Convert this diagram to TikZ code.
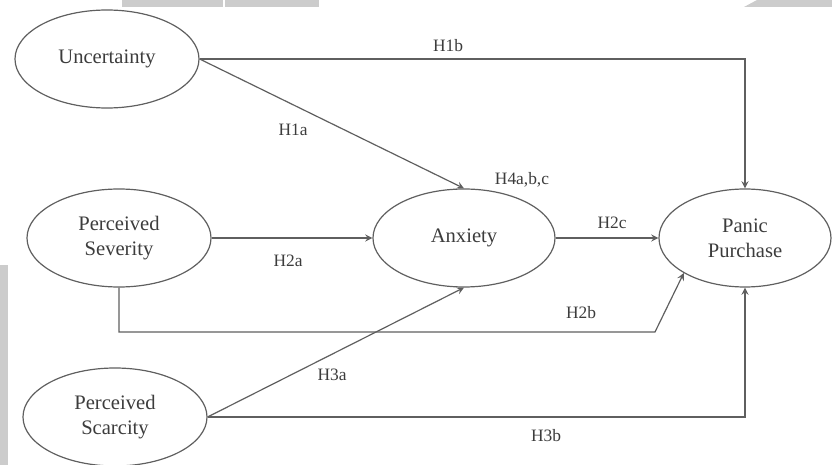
\documentclass[tikz,border=0pt]{standalone}
\usepackage{fontspec}
\setmainfont{Liberation Serif}
\usepackage{tikz}
\usetikzlibrary{calc, positioning, arrows, shapes.geometric}
\definecolor{ink}{RGB}{60,60,60}
\definecolor{edge}{RGB}{95,95,95}
\definecolor{smudge}{RGB}{204,204,204}
\tikzstyle{var}=[draw=edge, line width=0.6pt, shape=ellipse, inner sep=0pt, minimum width=92pt, minimum height=49pt, align=center, text=ink, font=\fontsize{10.3}{12.5}\selectfont]
\tikzstyle{hyp}=[inner sep=1pt, text=ink, font=\fontsize{8.7}{10}\selectfont]
\tikzstyle{path}=[draw=edge, line width=0.6pt]
\tikzset{>=stealth}

\begin{document}
\begin{tikzpicture}[x=0.5pt, y=-0.5pt]
\useasboundingbox (0,0) rectangle (832,465);
% the grey bits at the edges
\fill[smudge] (122,0) rectangle (223,7);
\fill[smudge] (225,0) rectangle (319,7);
\fill[smudge] (744,7) -- (757,0) -- (832,0) -- (832,7) -- cycle;
\fill[smudge] (0,265) rectangle (8,465);
% the constructs
\node[var] (unc) at (107, 59) {Uncertainty};
\node[var] (sev) at (119, 238) {Perceived\\Severity};
\node[var] (sca) at (115, 417) {Perceived\\Scarcity};
\node[var, minimum width=91pt] (anx) at (464, 238) {Anxiety};
\node[var, minimum width=86pt] (pp) at (745, 238) {Panic\\Purchase};
% the paths
\coordinate (kink) at (655, 332);
\draw[path, ->] (unc.east) -| (pp.north);
\draw[path, ->] (unc.east) -- (anx.north);
\draw[path, ->] (sev.east) -- (anx.west);
\draw[path, ->] (anx.east) -- (pp.west);
\draw[path, ->] (sev.south) |- (kink) -- (pp.south west);
\draw[path, ->] (sca.east) -- (anx.south);
\draw[path, ->] (sca.east) -| (pp.south);
% the hypotheses
\node[hyp] (h1b) at (448, 46) {H1b};
\node[hyp] (h1a) at (293, 130) {H1a};
\node[hyp] (h4) at (522, 180) {H4a,b,c};
\node[hyp] (h2a) at (288, 261) {H2a};
\node[hyp] (h2c) at (612, 223) {H2c};
\node[hyp] (h2b) at (581, 313) {H2b};
\node[hyp] (h3a) at (332, 375) {H3a};
\node[hyp] (h3b) at (546, 436) {H3b};
\end{tikzpicture}
\end{document}
